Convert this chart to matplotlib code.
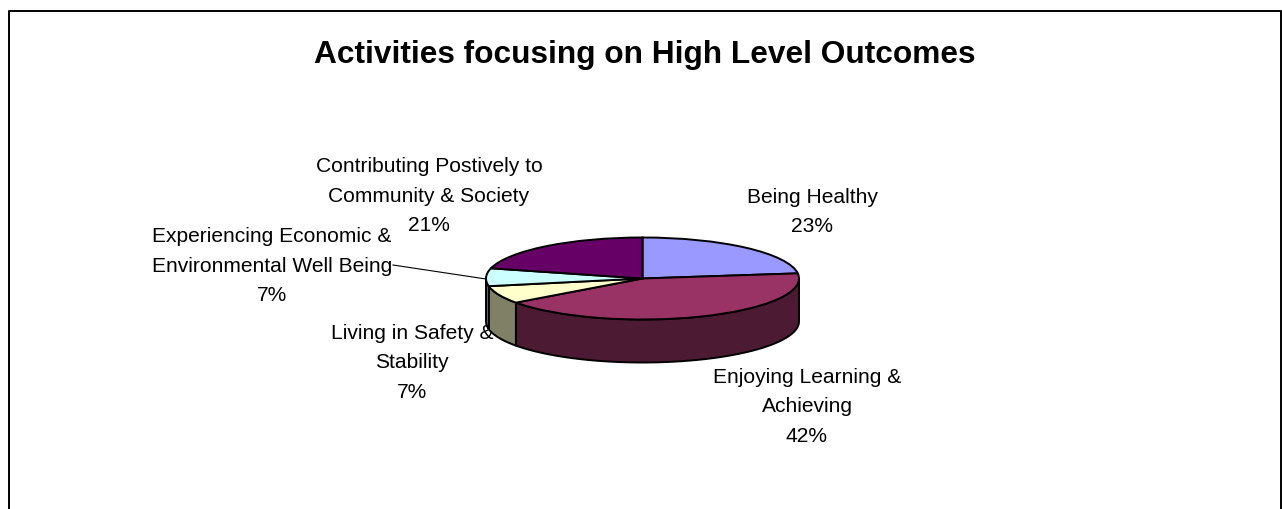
import numpy as np
import matplotlib
matplotlib.use('Agg')
import matplotlib.pyplot as plt
from matplotlib.patches import Polygon

plt.rcParams['font.family'] = ['Liberation Sans', 'DejaVu Sans']

W, H = 1282, 509

title = 'Activities focusing on High Level Outcomes'
categories = ['Being Healthy', 'Enjoying Learning &\nAchieving', 'Living in Safety &\nStability',
              'Experiencing Economic &\nEnvironmental Well Being', 'Contributing Postively to\nCommunity & Society']
values = [23, 42, 7, 7, 21]
top_colors = ['#9999FF', '#993366', '#FFFFCC', '#CCFFFF', '#660066']
side_colors = ['#5C5C99', '#4D1A33', '#808066', '#667F7F', '#330033']

# pie geometry in pixels
cx, cy = 642.5, 278.5
rx, ry = 156.5, 41
depth = 43

label_pos = [(812, 212), (807, 407), (412, 363), (272, 266), (429, 196)]


def px(x, y):
    return x / W, 1 - y / H


def main():
    fig = plt.figure(figsize=(W / 100, H / 100), dpi=100)
    ax = fig.add_axes([0, 0, 1, 1])

    # side wall, front half only
    edges = np.cumsum([0] + values) / sum(values) * 360
    for i in range(len(values)):
        a0 = max(edges[i], 90)
        a1 = min(edges[i + 1], 270)
        if a1 <= a0:
            continue
        t = np.radians(np.linspace(a0, a1, 80))
        xs = np.sin(t)
        ys = np.cos(t)
        upper = np.column_stack([xs, ys])
        lower = np.column_stack([xs, ys - depth / ry])
        ax.add_patch(Polygon(np.vstack([upper, lower[::-1]]), closed=True, facecolor=side_colors[i],
                             edgecolor='black', linewidth=1.4, joinstyle='round', zorder=1))

    wedges, _ = ax.pie(values, colors=top_colors, startangle=90, counterclock=False, radius=1,
                       wedgeprops={'edgecolor': 'black', 'linewidth': 1.4})
    for w in wedges:
        w.set_zorder(2)

    # pie() resets limits, so stretch the circle into the flat ellipse afterwards
    ax.set_aspect('auto')
    ax.set_xlim(-cx / rx, (W - cx) / rx)
    ax.set_ylim((cy - H) / ry, cy / ry)
    ax.axis('off')

    fig.text(*px(645, 55), title, fontsize=22.8, fontweight='bold', ha='center', va='center')

    for name, value, pos in zip(categories, values, label_pos):
        fig.text(*px(*pos), f'{name}\n{value}%', fontsize=15.1, ha='center', va='center',
                 linespacing=1.68, color='black', zorder=5)

    # leader line to the small slice
    fig.add_artist(plt.Line2D([393 / W, 486 / W], [1 - 265 / H, 1 - 279 / H], color='black', linewidth=0.8))

    # chart frame, bottom edge falls outside the crop
    frame_x = [8.5, 8.5, 1280.5, 1280.5]
    frame_y = [H, 10.5, 10.5, H]
    fig.add_artist(plt.Line2D([x / W for x in frame_x], [1 - y / H for y in frame_y],
                              color='black', linewidth=1.4))

    fig.savefig('out.png', dpi=100)


if __name__ == "__main__":
    main()
